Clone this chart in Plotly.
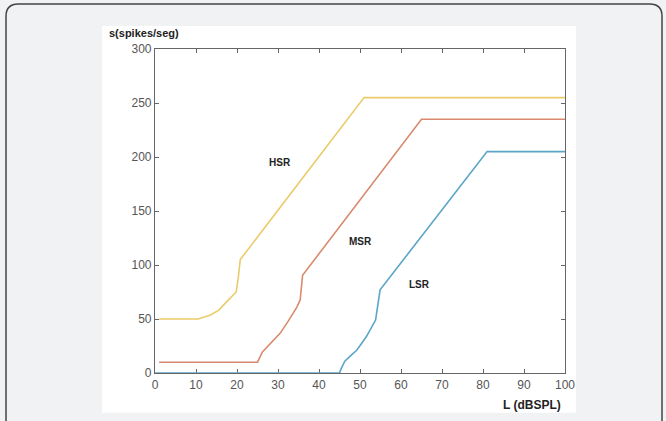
import plotly.graph_objects as go

# Data
hsr_x = [1, 10.5, 13.4, 15.5, 17.1, 18.6, 19.8, 20.3, 20.8, 51, 100]
hsr_y = [50, 50, 53.5, 58, 64.5, 70, 75, 88, 105, 255, 255]
msr_x = [1, 25, 26.2, 28, 30.5, 32.5, 34.6, 35.4, 36, 65, 100]
msr_y = [10, 10, 19.5, 27, 36.7, 48, 61, 67.6, 90.5, 235, 235]
lsr_x = [0, 45, 45.4, 46.3, 48, 49.2, 50.5, 51.6, 53.8, 54.9, 81, 100]
lsr_y = [0, 0, 4, 11, 17, 21, 28, 34, 49, 77, 205, 205]

labels = ["HSR", "MSR", "LSR"]
label_x = [30.5, 50.2, 64.6]
label_y = [195, 122, 82]

x_ticks = list(range(0, 101, 10))
y_ticks = list(range(0, 301, 50))

colors = ["#EBCB6B", "#D98A6E", "#5AA5C8"]

fig = go.Figure()
for xs, ys, c, name in [(hsr_x, hsr_y, colors[0], "HSR"),
                        (msr_x, msr_y, colors[1], "MSR"),
                        (lsr_x, lsr_y, colors[2], "LSR")]:
    fig.add_trace(go.Scatter(x=xs, y=ys, mode="lines", name=name,
                             line=dict(color=c, width=1.6),
                             cliponaxis=False, showlegend=False))

for t, lx, ly in zip(labels, label_x, label_y):
    fig.add_annotation(x=lx, y=ly, text="<b>%s</b>" % t, showarrow=False,
                       font=dict(family="Liberation Sans", size=10, color="#222"))

fig.add_annotation(xref="paper", yref="paper", x=-0.117, y=1.049,
                   xanchor="left", yanchor="middle", showarrow=False,
                   text="<b>s(spikes/seg)</b>",
                   font=dict(family="Liberation Sans", size=11, color="#222"))
fig.add_annotation(xref="paper", yref="paper", x=0.995, y=-0.099,
                   xanchor="right", yanchor="middle", showarrow=False,
                   text="<b>L (dBSPL)</b>",
                   font=dict(family="Liberation Sans", size=12, color="#222"))

# white panel
fig.add_shape(type="rect", xref="paper", yref="paper",
              x0=-0.129, x1=1.027, y0=-0.123, y1=1.071,
              fillcolor="white", line=dict(width=0), layer="below")
# rounded border
x0, x1, y0, y1 = -0.3634, 1.2366, -0.2, 1.1389
rx, ry = 0.03, 0.038
path = (f"M {x0},{y0} L {x0},{y1-ry} Q {x0},{y1} {x0+rx},{y1} "
        f"L {x1-rx},{y1} Q {x1},{y1} {x1},{y1-ry} L {x1},{y0}")
fig.add_shape(type="path", xref="paper", yref="paper", path=path,
              line=dict(color="#444", width=1.5), layer="below")

axis_common = dict(showgrid=False, zeroline=False, showline=True,
                   linecolor="#666", linewidth=1.2, mirror="ticks",
                   ticks="inside", ticklen=4, tickcolor="#666",
                   tickfont=dict(family="Liberation Sans", size=12, color="#555"),
                   layer="below traces")
fig.update_xaxes(range=[0, 100], tickvals=x_ticks, **axis_common)
fig.update_yaxes(range=[0, 300], tickvals=y_ticks, **axis_common)

fig.update_layout(width=666, height=421,
                  margin=dict(l=155, r=101, t=49, b=48),
                  paper_bgcolor="#F1F2F4", plot_bgcolor="white")

fig.write_html("out.html", config={"displayModeBar": False},
               post_script="document.body.style.margin='0';"
                           "document.body.style.background='#F1F2F4';")
